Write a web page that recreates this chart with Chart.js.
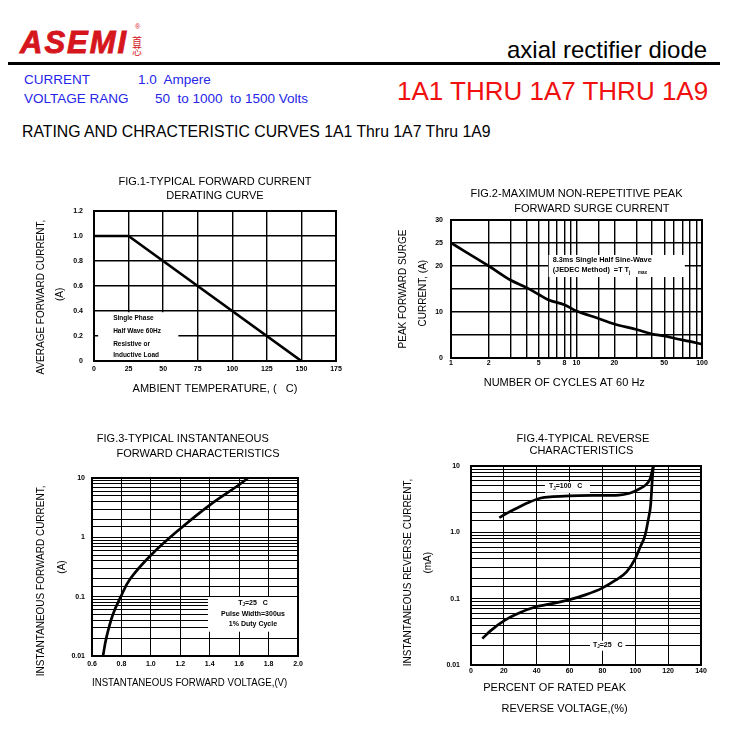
<!DOCTYPE html>
<html lang="en">
<head>
<meta charset="UTF-8">
<title>1A1 thru 1A9 rating and characteristic curves</title>
<script src="https://cdn.jsdelivr.net/npm/chart.js"></script>
<style>
  body { margin: 0; background: #fff; }
  #page { position: relative; width: 730px; height: 734px; overflow: hidden; font-family: 'Liberation Sans', Arial, sans-serif; }
  .t { position: absolute; white-space: pre; line-height: 1; }
  canvas { position: absolute; }
  #logo { left: 20px; top: 24.5px; font: italic bold 31px 'Liberation Sans', Arial, sans-serif; color: #d6161d; letter-spacing: 2px; -webkit-text-stroke: 0.9px #d6161d; }
  .cn { font: 10px 'Noto Sans CJK SC', sans-serif; color: #d6161d; }
  #reg { left: 135px; top: 23px; font-size: 7px; color: #d6161d; }
  #rule { position: absolute; left: 8px; top: 62px; width: 712px; height: 3px; background: #000; }
  .blue { color: #2626e8; font-size: 13.5px; }
</style>
</head>
<body>
<div id="page">
  <div class="t" id="logo">ASEMI</div>
  <div class="t" id="reg">®</div>
  <div class="t cn" style="left:132px;top:32.5px">首</div>
  <div class="t cn" style="left:132px;top:42.5px">芯</div>
  <div class="t" style="left:507px;top:37.7px;font-size:24px;color:#000">axial rectifier diode</div>
  <div id="rule"></div>
  <div class="t blue" style="left:24px;top:73.4px">CURRENT</div>
  <div class="t blue" style="left:138px;top:73.4px">1.0  Ampere</div>
  <div class="t blue" style="left:24px;top:92.4px">VOLTAGE RANG</div>
  <div class="t blue" style="left:155px;top:92.4px">50  to 1000  to 1500 Volts</div>
  <div class="t" style="left:397px;top:78.3px;font-size:26px;color:#f01010">1A1 THRU 1A7 THRU 1A9</div>
  <div class="t" style="left:22px;top:124px;font-size:15.8px;color:#000">RATING AND CHRACTERISTIC CURVES 1A1 Thru 1A7 Thru 1A9</div>

  <canvas id="fig1" width="350" height="230" style="left:10px;top:170px"></canvas>
  <canvas id="fig2" width="345" height="220" style="left:380px;top:180px"></canvas>
  <canvas id="fig3" width="310" height="270" style="left:10px;top:425px"></canvas>
  <canvas id="fig4" width="345" height="300" style="left:380px;top:425px"></canvas>
</div>
<script>
// ---- data ----
const fig1Temp = [0, 25, 150];                 // ambient temperature, C
const fig1Current = [1.0, 1.0, 0];             // average forward current, A
const fig1XTicks = [0, 25, 50, 75, 100, 125, 150, 175];
const fig1YTicks = ['0', '0.2', '0.4', '0.6', '0.8', '1.0', '1.2'];

const fig2Cycles = [1, 2, 3, 4, 5, 6, 8, 10, 15, 20, 30, 40, 50, 60, 80, 100];
const fig2Surge = [25, 20, 16.9, 15.3, 13.8, 12.6, 11.6, 10.2, 8.6, 7.4, 6.2, 5.2, 4.8, 4.3, 3.6, 3.0];
const fig2XLabels = [1, 2, 5, 8, 10, 20, 50, 100];
const fig2YLabels = [0, 10, 20, 25, 30];

const fig3Volt = [0.675, 0.697, 0.742, 0.796, 0.86, 1.0, 1.2, 1.4, 1.6, 1.66];
const fig3Amp = [0.01, 0.02, 0.05, 0.1, 0.2, 0.5, 1.4, 3.5, 7.7, 10];
const fig3YLabels = [[0.01, '0.01'], [0.1, '0.1'], [1, '1'], [10, '10']];

const fig4Pct100 = [17.2, 22, 27.8, 33.9, 42, 50, 60, 75, 90, 96, 100, 103, 106, 109, 111];
const fig4Ma100 = [1.67, 1.95, 2.31, 2.74, 3.27, 3.45, 3.55, 3.6, 3.65, 3.85, 4.2, 4.6, 5.1, 6.4, 10];
const fig4Pct25 = [6.9, 12, 20.7, 30, 39, 50, 59, 70, 79.5, 88, 94.7, 100, 103, 106, 108, 109.3, 110.4, 111];
const fig4Ma25 = [0.025, 0.033, 0.0475, 0.062, 0.075, 0.085, 0.095, 0.115, 0.143, 0.19, 0.254, 0.4, 0.6, 0.91, 1.6, 2.5, 6.5, 10];
const fig4YLabels = [[0.01, '0.01'], [0.1, '0.1'], [1, '1.0'], [10, '10']];

// ---- shared bits ----
const FONT = "'Liberation Sans', Arial, sans-serif";
Chart.defaults.color = '#000';
Chart.defaults.font.family = FONT;

function pts(xs, ys) { return xs.map((x, i) => ({x: x, y: ys[i]})); }
function fit(px) { return s => { if (s.isHorizontal()) s.height = px; else s.width = px; }; }
function logLabel(list) {
  return v => { const hit = list.find(p => Math.abs(v / p[0] - 1) < 1e-6); return hit ? hit[1] : ''; };
}
const tickFont = {size: 7, weight: 'bold'};

function drawParts(ctx, parts, x, y, align) {
  let w = 0;
  parts.forEach(p => { ctx.font = 'bold ' + p[1] + 'px ' + FONT; w += ctx.measureText(p[0]).width; });
  let cx = align === 'center' ? x - w / 2 : x;
  parts.forEach(p => {
    ctx.font = 'bold ' + p[1] + 'px ' + FONT;
    ctx.fillText(p[0], cx, y + (p[2] || 0));
    cx += ctx.measureText(p[0]).width;
  });
}

// white note boxes over the grid + heavy frame round the plot
const notesPlugin = {
  id: 'notes',
  beforeDatasetsDraw(chart, args, opts) {
    const ctx = chart.ctx, xs = chart.scales.x, ys = chart.scales.y;
    (opts.boxes || []).forEach(b => {
      const x0 = xs.getPixelForValue(b.x0), x1 = xs.getPixelForValue(b.x1);
      const y0 = ys.getPixelForValue(b.y1), y1 = ys.getPixelForValue(b.y0);
      ctx.save();
      ctx.fillStyle = '#fff';
      ctx.fillRect(x0, y0, x1 - x0, y1 - y0);
      ctx.fillStyle = '#000';
      ctx.textBaseline = 'middle';
      ctx.textAlign = 'left';
      b.lines.forEach(l => {
        const ax = b.align === 'center' ? (x0 + x1) / 2 : x0 + b.dx;
        drawParts(ctx, l.parts, ax, y0 + l.dy, b.align);
      });
      ctx.restore();
    });
  },
  afterDatasetsDraw(chart) {
    const a = chart.chartArea, ctx = chart.ctx;
    ctx.save();
    ctx.strokeStyle = '#000';
    ctx.lineWidth = 2;
    ctx.strokeRect(a.left, a.top, a.right - a.left, a.bottom - a.top);
    ctx.restore();
  }
};

function baseOptions(o) {
  return {
    responsive: false,
    animation: false,
    events: [],
    layout: {padding: o.padding},
    plugins: {
      legend: {display: false},
      tooltip: {enabled: false},
      title: {display: true, fullSize: false, text: o.title, color: '#000',
        font: {size: 11, weight: 'normal', lineHeight: o.titleLH + 'px'},
        padding: o.titlePad},
      notes: {boxes: o.boxes}
    },
    scales: {x: o.x, y: o.y}
  };
}

// mode: 'monotone', or a bezier tension value
function lineSet(data, mode) {
  return {data: data, borderColor: '#000', borderWidth: 2.7, pointRadius: 0, fill: false,
    tension: typeof mode === 'number' ? mode : 0,
    cubicInterpolationMode: mode === 'monotone' ? 'monotone' : 'default'};
}

const gridStyle = w => ({color: '#000', lineWidth: w, drawTicks: false});
const borderStyle = {display: true, color: '#000', width: 2};

// ---- FIG.1 derating curve ----
new Chart(document.getElementById('fig1'), {
  type: 'line',
  data: {datasets: [lineSet(pts(fig1Temp, fig1Current), 0)]},
  plugins: [notesPlugin],
  options: baseOptions({
    padding: {left: 0, right: 24, top: 0, bottom: 0},
    title: ['FIG.1-TYPICAL FORWARD CURRENT', 'DERATING CURVE'],
    titleLH: 14, titlePad: {top: 5, bottom: 8},
    boxes: [{x0: 3, x1: 61, y0: 0.004, y1: 0.39, dx: 15, lines: [
      {dy: 6, parts: [['Single Phase', 6.5]]},
      {dy: 18.5, parts: [['Half Wave 60Hz', 6.5]]},
      {dy: 31.5, parts: [['Resistive or', 6.5]]},
      {dy: 42.5, parts: [['Inductive Load', 6.5]]}
    ]}],
    x: {type: 'linear', min: 0, max: 175, afterFit: fit(39),
      ticks: {stepSize: 25, autoSkip: false, maxRotation: 0, padding: 4, font: tickFont,
        callback: v => fig1XTicks.includes(v) ? String(v) : ''},
      grid: gridStyle(1.4), border: borderStyle,
      title: {display: true, text: 'AMBIENT TEMPERATURE, (   C)', font: {size: 11, lineHeight: '12px'}, padding: {top: 0, bottom: 5}}},
    y: {type: 'linear', min: 0, max: 1.2, afterFit: fit(84),
      ticks: {stepSize: 0.2, autoSkip: false, padding: 11, font: tickFont,
        callback: v => fig1YTicks[Math.round(v / 0.2)] || ''},
      grid: gridStyle(1.4), border: borderStyle,
      title: {display: true, text: ['AVERAGE FORWARD CURRENT,' + ' '.repeat(8), '(A)' + ' '.repeat(6)],
        font: {size: 10, lineHeight: '19px'}, padding: {top: 21.5, bottom: 0}}}
  })
});

// ---- FIG.2 surge current ----
new Chart(document.getElementById('fig2'), {
  type: 'line',
  data: {datasets: [lineSet(pts(fig2Cycles, fig2Surge), 0.35)]},
  plugins: [notesPlugin],
  options: baseOptions({
    padding: {left: 0, right: 23, top: 0, bottom: 0},
    title: ['FIG.2-MAXIMUM NON-REPETITIVE PEAK', ' '.repeat(10) + 'FORWARD SURGE CURRENT'],
    titleLH: 15, titlePad: {top: 6.5, bottom: 3.5},
    boxes: [{x0: 6, x1: 73, y0: 17.6, y1: 22.4, dx: 4, lines: [
      {dy: 5.5, parts: [['8.3ms Single Half Sine-Wave', 7.3]]},
      {dy: 15.5, parts: [['(JEDEC Method)  =T T', 7.3], ['j', 5, 2], ['      max', 4.5, 2]]}
    ]}],
    x: {type: 'logarithmic', min: 1, max: 100, afterFit: fit(42),
      ticks: {autoSkip: false, maxRotation: 0, padding: 1, font: tickFont,
        callback: logLabel(fig2XLabels.map(v => [v, String(v)]))},
      grid: gridStyle(1.4), border: borderStyle,
      title: {display: true, text: 'NUMBER OF CYCLES AT 60 Hz' + ' '.repeat(8), font: {size: 11, lineHeight: '12px'}, padding: {top: 0, bottom: 11}}},
    y: {type: 'linear', min: 0, max: 30, afterFit: fit(71),
      ticks: {stepSize: 5, autoSkip: false, padding: 8, font: tickFont,
        callback: v => fig2YLabels.includes(v) ? String(v) : ''},
      grid: gridStyle(1.4), border: borderStyle,
      title: {display: true, text: ['PEAK FORWARD SURGE', 'CURRENT, (A)' + ' '.repeat(3)],
        font: {size: 10, lineHeight: '20px'}, padding: {top: 13, bottom: 0}}}
  })
});

// ---- FIG.3 forward characteristics ----
new Chart(document.getElementById('fig3'), {
  type: 'line',
  data: {datasets: [lineSet(pts(fig3Volt, fig3Amp), 0.4)]},
  plugins: [notesPlugin],
  options: baseOptions({
    padding: {left: 0, right: 22, top: 0, bottom: 0},
    title: ['FIG.3-TYPICAL INSTANTANEOUS' + ' '.repeat(8), '  FORWARD CHARACTERISTICS'],
    titleLH: 15, titlePad: {top: 6.5, bottom: 16.5},
    boxes: [{x0: 1.388, x1: 2.0, y0: 0.0257, y1: 0.0986, align: 'center', lines: [
      {dy: 5.7, parts: [['T', 7], ['J', 4.5, 2], ['=25   C', 7]]},
      {dy: 17, parts: [['Pulse Width=300us', 7]]},
      {dy: 27.5, parts: [['1% Duty Cycle', 7]]}
    ]}],
    x: {type: 'linear', min: 0.6, max: 2.0, afterFit: fit(39),
      ticks: {stepSize: 0.2, autoSkip: false, maxRotation: 0, padding: 4, font: tickFont,
        callback: v => v.toFixed(1)},
      grid: gridStyle(1), border: borderStyle,
      title: {display: true, text: 'INSTANTANEOUS FORWARD VOLTAGE,(V)' + ' '.repeat(4), font: {size: 11, lineHeight: '12px'}, padding: {top: 0, bottom: 6}}},
    y: {type: 'logarithmic', min: 0.01, max: 10, afterFit: fit(82),
      ticks: {autoSkip: false, padding: 7, font: tickFont, callback: logLabel(fig3YLabels)},
      grid: gridStyle(1), border: borderStyle,
      title: {display: true, text: ['INSTANTANEOUS FORWARD CURRENT,' + ' '.repeat(10), '(A)'],
        font: {size: 10, lineHeight: '21px'}, padding: {top: 20.5, bottom: 0}}}
  })
});

// ---- FIG.4 reverse characteristics ----
new Chart(document.getElementById('fig4'), {
  type: 'line',
  data: {datasets: [lineSet(pts(fig4Pct100, fig4Ma100), 'monotone'), lineSet(pts(fig4Pct25, fig4Ma25), 'monotone')]},
  plugins: [notesPlugin],
  options: baseOptions({
    padding: {left: 0, right: 24, top: 0, bottom: 0},
    title: ['FIG.4-TYPICAL REVERSE' + '  ', 'CHARACTERISTICS' + '   '],
    titleLH: 12, titlePad: {top: 8, bottom: 9},
    boxes: [
      {x0: 45, x1: 72.4, y0: 3.93, y1: 5.74, dx: 4, lines: [
        {dy: 4.5, parts: [['T', 7], ['J', 4.5, 2], ['=100   C', 7]]}]},
      {x0: 72.4, x1: 94, y0: 0.0164, y1: 0.0232, dx: 3, lines: [
        {dy: 4.5, parts: [['T', 7], ['J', 4.5, 2], ['=25   C', 7]]}]}
    ],
    x: {type: 'linear', min: 0, max: 140, afterFit: fit(60),
      ticks: {stepSize: 20, autoSkip: false, maxRotation: 0, padding: 2, font: tickFont},
      grid: gridStyle(1), border: borderStyle,
      title: {display: true, align: 'start', text: [' '.repeat(4) + 'PERCENT OF RATED PEAK', ' '.repeat(10) + 'REVERSE VOLTAGE,(%)'],
        font: {size: 11, lineHeight: '21px'}, padding: {top: 0, bottom: 5.5}}},
    y: {type: 'logarithmic', min: 0.01, max: 10, afterFit: fit(91),
      ticks: {autoSkip: false, padding: 11, font: tickFont, callback: logLabel(fig4YLabels)},
      grid: gridStyle(1), border: borderStyle,
      title: {display: true, text: ['INSTANTANEOUS REVERSE CURRENT,' + ' '.repeat(5), '  (mA)'],
        font: {size: 10, lineHeight: '20px'}, padding: {top: 18, bottom: 0}}}
  })
});
</script>
</body>
</html>
